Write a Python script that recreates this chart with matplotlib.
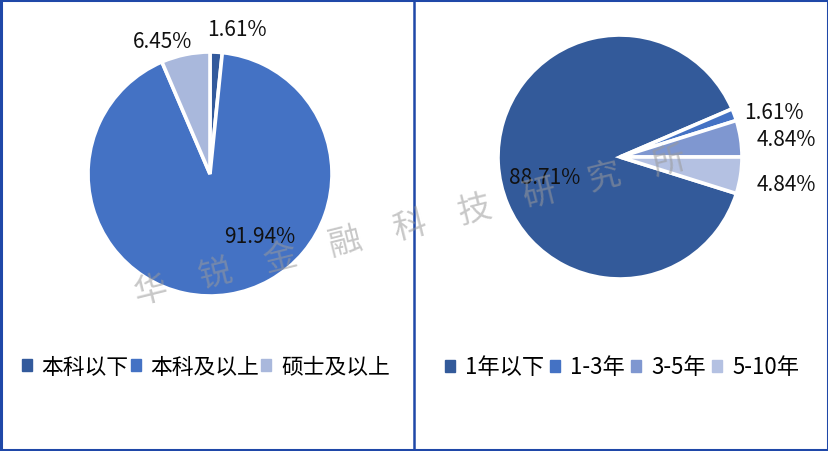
import numpy as np
import matplotlib.pyplot as plt
from matplotlib.patches import Rectangle
from matplotlib.lines import Line2D

plt.rcParams['font.family'] = ['Noto Sans CJK SC', 'DejaVu Sans']

# left pie: education
edu_labels = ["本科以下", "本科及以上", "硕士及以上"]
edu_values = [1.61, 91.94, 6.45]
edu_colors = ["#335A9C", "#4472C4", "#A9B8DC"]

# right pie: working years
exp_labels = ["1年以下", "1-3年", "3-5年", "5-10年"]
exp_values = [88.71, 1.61, 4.84, 4.84]
exp_colors = ["#335A9A", "#4472C4", "#7F97D0", "#B4C1E2"]

W, H = 829, 452
fig = plt.figure(figsize=(W / 100, H / 100), dpi=100)


def pie_axes(cx, cy, r):
    return fig.add_axes([(cx - r) / W, (H - cy - r) / H, 2 * r / W, 2 * r / H])


def draw_pie(ax, values, colors, start, label_pos):
    ax.pie(values, colors=colors, startangle=start, counterclock=False, radius=1,
           wedgeprops=dict(edgecolor="white", linewidth=2.6))
    ax.set_xlim(-1, 1)
    ax.set_ylim(-1, 1)
    ax.set_axis_off()
    for v, (x, y) in zip(values, label_pos):
        ax.text(x, y, f"{v:.2f}%", ha="center", va="center", fontsize=15,
                color="#111111", clip_on=False, zorder=5)


ax1 = pie_axes(210, 175, 122)
draw_pie(ax1, edu_values, edu_colors, 90,
         [(0.22, 1.19), (0.41, -0.51), (-0.39, 1.09)])

ax2 = pie_axes(620, 158, 122)
draw_pie(ax2, exp_values, exp_colors, -exp_values[-1] * 3.6,
         [(-0.62, -0.16), (1.26, 0.37), (1.36, 0.15), (1.36, -0.22)])


# legends
def legend(labels, colors, x, size, spacing):
    handles = [Rectangle((0, 0), 1, 1, color=c) for c in colors]
    fig.legend(handles, labels, loc="center left", bbox_to_anchor=(x / W, 1 - 368 / H),
               ncol=len(labels), frameon=False, fontsize=size, handlelength=0.45,
               handleheight=0.45, handletextpad=0.45, columnspacing=spacing,
               borderpad=0, borderaxespad=0)


legend(edu_labels, edu_colors, 22, 15.7, 0.1)
legend(exp_labels, exp_colors, 445, 16, 0.28)

# watermark
fig.text(410 / W, 1 - 226 / H, "华　锐　金　融　科　技　研　究　所", fontsize=24,
         color="#9A9A9A", alpha=0.55, rotation=14, ha="center", va="center",
         zorder=10)

# frame and divider
border = "#1F48A8"
fig.add_artist(Rectangle((0.0012, 0.002), 0.9976, 0.996, transform=fig.transFigure,
                         fill=False, edgecolor=border, linewidth=2.2))
fig.add_artist(Line2D([414 / W, 414 / W], [0, 1], transform=fig.transFigure,
                      color=border, linewidth=1.8))

fig.savefig("out.png", dpi=100)
